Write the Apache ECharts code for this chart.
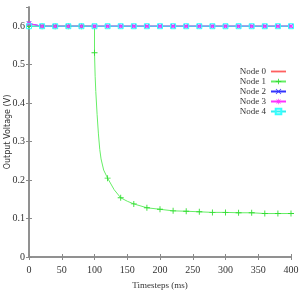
<!DOCTYPE html>
<html><head><meta charset="utf-8">
<script src="https://cdn.jsdelivr.net/npm/echarts@6/dist/echarts.min.js"></script>
<style>html,body{margin:0;padding:0;background:#fff}#c{width:300px;height:300px}</style>
</head><body><div id="c"></div>
<script>
var seriesNames = ['Node 0','Node 1','Node 2','Node 3','Node 4'];
var markerTimes = [0,20,40,60,80,100,120,140,160,180,200,220,240,260,280,300,320,340,360,380,400];
var node0 = [0.6,0.6,0.6,0.6,0.6,0.6,0.6,0.6,0.6,0.6,0.6,0.6,0.6,0.6,0.6,0.6,0.6,0.6,0.6,0.6,0.6];
var node1 = [0.6,0.6,0.6,0.6,0.6,0.531,0.205,0.154,0.138,0.128,0.124,0.120,0.119,0.1175,0.116,0.116,0.115,0.115,0.113,0.113,0.113];
// extra (unmarked) points along node 1's curve: [time, value]
var node1Curve = [[100,0.6],[101,0.47],[102,0.43],[104,0.37],[106,0.32],[108,0.28],[110,0.255],[114,0.226],[130,0.175],[150,0.145]];
var node2 = [0.607,0.6,0.6,0.6,0.6,0.6,0.6,0.6,0.6,0.6,0.6,0.6,0.6,0.6,0.6,0.6,0.6,0.6,0.6,0.6,0.6];
var node3 = [0.607,0.6,0.6,0.6,0.6,0.6,0.6,0.6,0.6,0.6,0.6,0.6,0.6,0.6,0.6,0.6,0.6,0.6,0.6,0.6,0.6];
var node4 = [0.6,0.6,0.6,0.6,0.6,0.6,0.6,0.6,0.6,0.6,0.6,0.6,0.6,0.6,0.6,0.6,0.6,0.6,0.6,0.6,0.6];

var PLUS = 'path://M-0.15,-1H0.15V-0.15H1V0.15H0.15V1H-0.15V0.15H-1V-0.15H-0.15Z';
var CROSS = 'path://M-1,-0.8L-0.8,-1L0,-0.2L0.8,-1L1,-0.8L0.2,0L1,0.8L0.8,1L0,0.2L-0.8,1L-1,0.8L-0.2,0Z';
var STAR = 'path://M-0.12,-1H0.12V-0.3L0.6,-0.8L0.8,-0.6L0.3,-0.12H1V0.12H0.3L0.8,0.6L0.6,0.8L0.12,0.3V1H-0.12V0.3L-0.6,0.8L-0.8,0.6L-0.3,0.12H-1V-0.12H-0.3L-0.8,-0.6L-0.6,-0.8L-0.12,-0.3Z';

function pairs(vals){ return markerTimes.map(function(t,i){return [t, vals[i]];}); }
var n1 = [];
markerTimes.forEach(function(t,i){ n1.push({value:[t,node1[i]]}); });
node1Curve.forEach(function(p){ n1.push({value:p, symbol:'none'}); });
n1.sort(function(a,b){ return a.value[0]-b.value[0] || (b.value[1]-a.value[1]); });

var chart = echarts.init(document.getElementById('c'), null, {renderer:'canvas'});
var axisCol = '#8a8a8a';
var font = "'Liberation Serif', serif";
chart.setOption({
  animation:false,
  grid:{left:29, right:9, top:7, bottom:43, outerBoundsMode:'none', containLabel:false},
  legend:{
    right:13, top:67, orient:'vertical', align:'right', padding:0,
    itemWidth:15, itemHeight:7, itemGap:1,
    textStyle:{fontFamily:font, fontSize:9, color:'#333', lineHeight:9, padding:[0,0,0,-3]},
    data:[{name:'Node 0', icon:'path://M0,2.6H15V4.4H0Z'},'Node 1','Node 2','Node 3','Node 4']
  },
  xAxis:[{
    type:'value', min:0, max:400, interval:50, position:'bottom',
    name:'Timesteps (ms)', nameLocation:'middle', nameGap:24, nameMoveOverlap:false,
    nameTextStyle:{fontFamily:font, fontSize:9, color:'#333'},
    axisLine:{lineStyle:{color:axisCol,width:1.5}},
    axisTick:{inside:true,length:3,lineStyle:{color:axisCol}},
    axisLabel:{fontFamily:font, fontSize:10, color:'#333', margin:8},
    splitLine:{show:false}
  },{
    type:'value', min:0, max:400, interval:50, position:'top',
    axisLine:{lineStyle:{color:axisCol,width:1.5}},
    axisTick:{inside:true,length:3,lineStyle:{color:axisCol}},
    axisLabel:{show:false}, splitLine:{show:false}
  }],
  yAxis:[{
    type:'value', min:0, max:0.65, interval:0.1, position:'left',
    name:'Output Voltage (V)', nameLocation:'middle', nameGap:17, nameMoveOverlap:false,
    nameTextStyle:{fontFamily:'DejaVu Sans', fontSize:8, color:'#333'},
    axisLine:{lineStyle:{color:axisCol,width:1.5}},
    axisTick:{inside:true,length:3,lineStyle:{color:axisCol}},
    axisLabel:{fontFamily:font, fontSize:10, color:'#333', margin:4, showMaxLabel:false,
      formatter:function(v){return Math.round(v*10)/10+'';}},
    splitLine:{show:false}
  },{
    type:'value', min:0, max:0.65, interval:0.1, position:'right',
    axisLine:{show:true,lineStyle:{color:axisCol,width:1.5}},
    axisTick:{show:true,inside:true,length:3,lineStyle:{color:axisCol}},
    axisLabel:{show:false}, splitLine:{show:false}
  }],
  series:[
    {name:'Node 0', type:'line', data:pairs(node0), symbol:'none', color:'#ff6060',
      lineStyle:{width:1}},
    {name:'Node 1', type:'line', data:n1, symbol:PLUS, symbolSize:6, color:'#33dd33',
      lineStyle:{width:1, color:'#66ee66'}},
    {name:'Node 2', type:'line', data:pairs(node2), symbol:CROSS, symbolSize:5, color:'#3333ff',
      lineStyle:{width:1}},
    {name:'Node 3', type:'line', data:pairs(node3), symbol:STAR, symbolSize:5, color:'#ff33ff',
      lineStyle:{width:1}},
    {name:'Node 4', type:'line', data:pairs(node4), symbol:'rect', symbolSize:5, color:'#33ffff',
      itemStyle:{color:'rgba(0,0,0,0)', borderColor:'#33ffff', borderWidth:1},
      lineStyle:{width:1, color:'#33eeee'}}
  ]
});
</script></body></html>
